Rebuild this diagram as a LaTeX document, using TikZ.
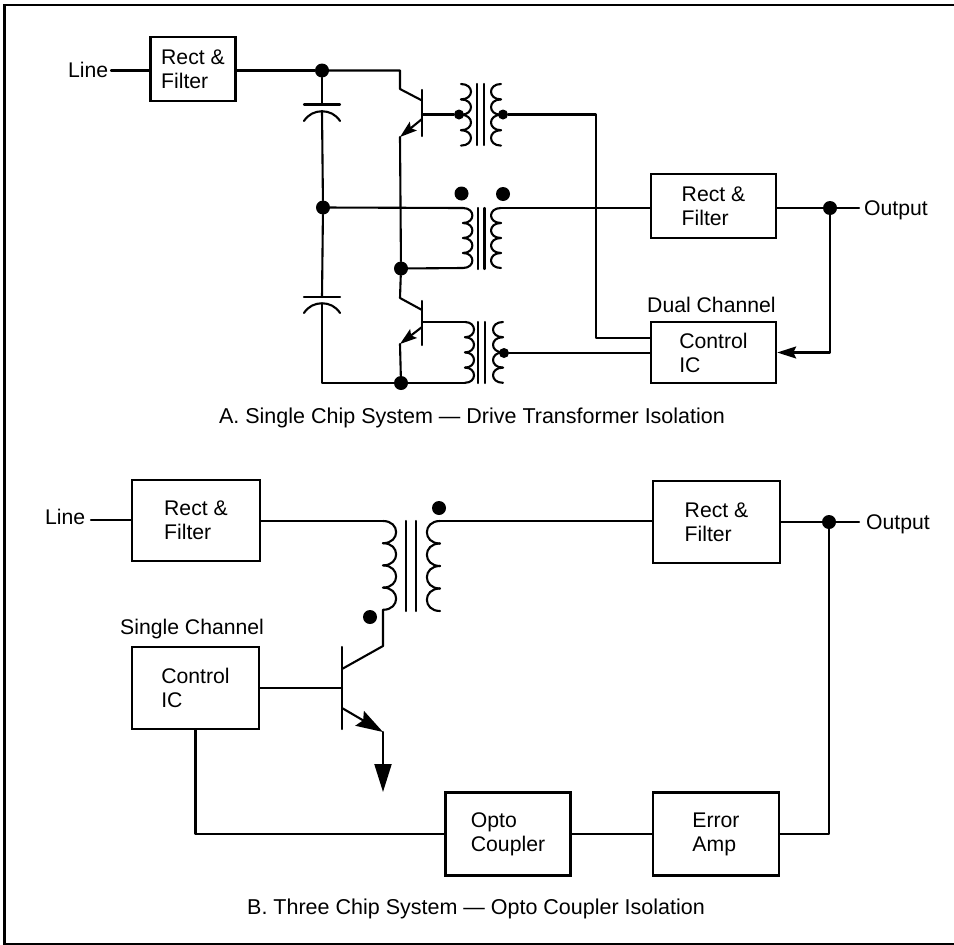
\documentclass[tikz,border=0pt]{standalone}
\usepackage{fontspec}
\setmainfont{Liberation Sans}
\usetikzlibrary{arrows.meta}
% one winding of a transformer: x, top y, height of a turn, bulge
\newcommand{\coil}[4]{%
  \foreach \n in {0,1,2,3}
    \draw [wire] (#1,{#2+\n*#3}) .. controls +(#4,0) and +(#4,0) .. (#1,{#2+\n*#3+#3});
}
\begin{document}
\begin{tikzpicture}[x=1pt,y=-1pt]
    \tikzstyle{wire} = [line width=2.1pt,line cap=round,line join=round]
    \tikzstyle{block} = [rectangle, draw=black, line width=2.4pt, align=left, inner sep=0pt, font=\fontsize{21.2}{24}\selectfont]
    \tikzstyle{txt} = [inner sep=0pt, font=\fontsize{21.2}{24}\selectfont]
    \tikzstyle{caption} = [inner sep=0pt, font=\fontsize{21.5}{24}\selectfont]
    \tikzstyle{dot} = [circle, fill=black, inner sep=0pt, minimum size=14pt]
    \tikzstyle{arrow} = [wire,-{Stealth[length=19pt,width=12pt,inset=3pt]}]
    \useasboundingbox (0,0) rectangle (954,945);

    % cadre
    \draw [line width=2.4pt] (954,5) -- (4.5,5) -- (4.5,944) -- (954,944);

    % --- A ---
    \node (rf1) [block, minimum width=85pt, minimum height=64pt] at (193,69) {Rect \&\\Filter};
    \node (rf2) [block, minimum width=125pt, minimum height=64pt] at (713.5,206) {Rect \&\\Filter};
    \node (ic1) [block, minimum width=125pt, minimum height=61pt] at (713.5,352.5) {Control\\IC};
    \node (line1) [txt, anchor=base west] at (68,77) {Line};
    \node (out1) [txt, anchor=base west] at (864,215) {Output};
    \node (dual) [txt, anchor=base west] at (647,312) {Dual Channel};
    \node (capA) [caption, anchor=base] at (472,423) {A. Single Chip System — Drive Transformer Isolation};

    \node (j1) [dot] at (322,70.5) {};
    \node (j2) [dot] at (323,207.5) {};
    \node (j3) [dot] at (401,268.5) {};
    \node (j4) [dot] at (401,383) {};
    \node (j5) [dot] at (830,208) {};
    \node (d1) [dot, minimum size=10pt] at (459,114.5) {};
    \node (d2) [dot, minimum size=10pt] at (503,114.5) {};
    \node (d3) [dot, minimum size=10pt] at (504,353) {};
    \node (d4) [dot] at (461.5,193.5) {};
    \node (d5) [dot] at (503,194) {};

    \coordinate (w1) at (111,70.5);
    \coordinate (w2) at (859,208);
    \draw [wire] (w1) -- (rf1.west |- w1);
    \draw [wire] (rf1.east |- j1) -- (j1);
    \draw [wire] (rf2.east |- j5) -- (w2);
    \draw [arrow] (j5) |- (ic1.east);

    % condensateurs
    \draw [wire] (304,104.5) -- (340,104.5);
    \draw [wire] (304,121) .. controls (312,108) and (332,108) .. (340,121);
    \draw [wire] (304,297) -- (340,297);
    \draw [wire] (304,313) .. controls (312,300) and (332,300) .. (340,313);
    \draw [wire] (j1) -- (322,104.5);
    \draw [wire] (322,111) -- (j2);
    \draw [wire] (j2) -- (322,297);
    \draw [wire] (322,304) -- (322,383) -- (j4);

    % transistors
    \coordinate (q1c) at (400,89);
    \coordinate (q1e) at (400,137);
    \coordinate (q2c) at (400,298);
    \coordinate (q2e) at (400,344);
    \draw [wire] (j1) -| (q1c) -- (422,100.5);
    \draw [wire] (422,90) -- (422,136);
    \draw [wire, -{Stealth[length=17pt,width=11pt,inset=3pt]}] (422,119) -- (q1e);
    \draw [wire] (q1e) -- (j3) -- (q2c) -- (422,310);
    \draw [wire] (422,301) -- (422,345);
    \draw [wire, -{Stealth[length=17pt,width=11pt,inset=3pt]}] (422,327) -- (q2e);
    \draw [wire] (q2e) -- (j4);
    \draw [wire] (422,114.5) -- (d1);

    % transfos
    \coil{461}{84}{15.4}{13.3}
    \draw [wire] (477,84) -- (477,145);
    \draw [wire] (484,84) -- (484,145);
    \coil{501}{84}{15.4}{-13.3}
    \coil{463}{208}{15}{12.5}
    \draw [wire] (478,208) -- (478,269);
    \draw [wire] (484.5,208) -- (484.5,269);
    \coil{501}{208}{15}{-13.3}
    \coil{465}{322}{15.2}{12}
    \draw [wire] (478,322) -- (478,383);
    \draw [wire] (485,322) -- (485,383);
    \coil{503}{322}{15.2}{-13.3}

    \coordinate (c1) at (463,208);
    \coordinate (c2) at (501,208);
    \draw [wire] (j2) -- (c1);
    \draw [wire] (c2) -- (rf2.west |- c2);
    \draw [wire] (j3) -- (463,268);
    \draw [wire] (422,322) -- (465,322);
    \draw [wire] (j4) -- (465,383);
    \coordinate (w5) at (596,338);
    \draw [wire] (d2) -| (w5) -- (ic1.west |- w5);
    \draw [wire] (d3) -- (ic1.west |- d3);

    % --- B ---
    \node (rf3) [block, minimum width=127.5pt, minimum height=81pt] at (196,520.5) {Rect \&\\Filter};
    \node (rf4) [block, minimum width=127pt, minimum height=82pt] at (716.5,522) {Rect \&\\Filter};
    \node (ic2) [block, minimum width=127pt, minimum height=82pt] at (195.5,688) {Control\\IC};
    \node (opto) [block, minimum width=125pt, minimum height=83pt] at (508,834) {Opto\\Coupler};
    \node (err) [block, minimum width=126pt, minimum height=83pt] at (716,834) {Error\\Amp};
    \node (line2) [txt, anchor=base west] at (45,524) {Line};
    \node (out2) [txt, anchor=base west] at (866,529) {Output};
    \node (single) [txt, anchor=base west] at (120,634) {Single Channel};
    \node (capB) [caption, anchor=base] at (476,914) {B. Three Chip System — Opto Coupler Isolation};

    \node (j6) [dot] at (829,522) {};
    \node (d6) [dot] at (439,508) {};
    \node (d7) [dot] at (370,617) {};

    \coordinate (w3) at (91,520);
    \coordinate (w4) at (859,522);
    \coordinate (c3) at (383,521);
    \coordinate (c4) at (440,521);
    \draw [wire] (w3) -- (rf3.west |- w3);
    \draw [wire] (rf3.east |- c3) -- (c3);
    \draw [wire] (c4) -- (rf4.west |- c4);
    \draw [wire] (rf4.east |- w4) -- (w4);
    \draw [wire] (j6) |- (err.east);
    \draw [wire] (err.west) -- (opto.east);
    \draw [wire] (opto.west) -| (ic2.south);

    \coil{383}{521}{22.2}{17.5}
    \draw [wire] (406,521) -- (406,611);
    \draw [wire] (416,521) -- (416,611);
    \coil{440}{521}{22.5}{-17.5}

    \coordinate (q3b) at (342,688);
    \coordinate (q3c) at (383,646);
    \coordinate (q3e) at (383,732);
    \draw [wire] (ic2.east) -- (q3b);
    \draw [wire] (342,647) -- (342,729);
    \draw [wire] (383,610) -- (q3c) -- (342,669);
    \draw [wire, -{Stealth[length=27pt,width=17pt,inset=4pt]}] (342,708) -- (q3e);
    \draw [wire, -{Stealth[length=28pt,width=17pt,inset=0pt]}] (q3e) -- (383,792);
\end{tikzpicture}
\end{document}
